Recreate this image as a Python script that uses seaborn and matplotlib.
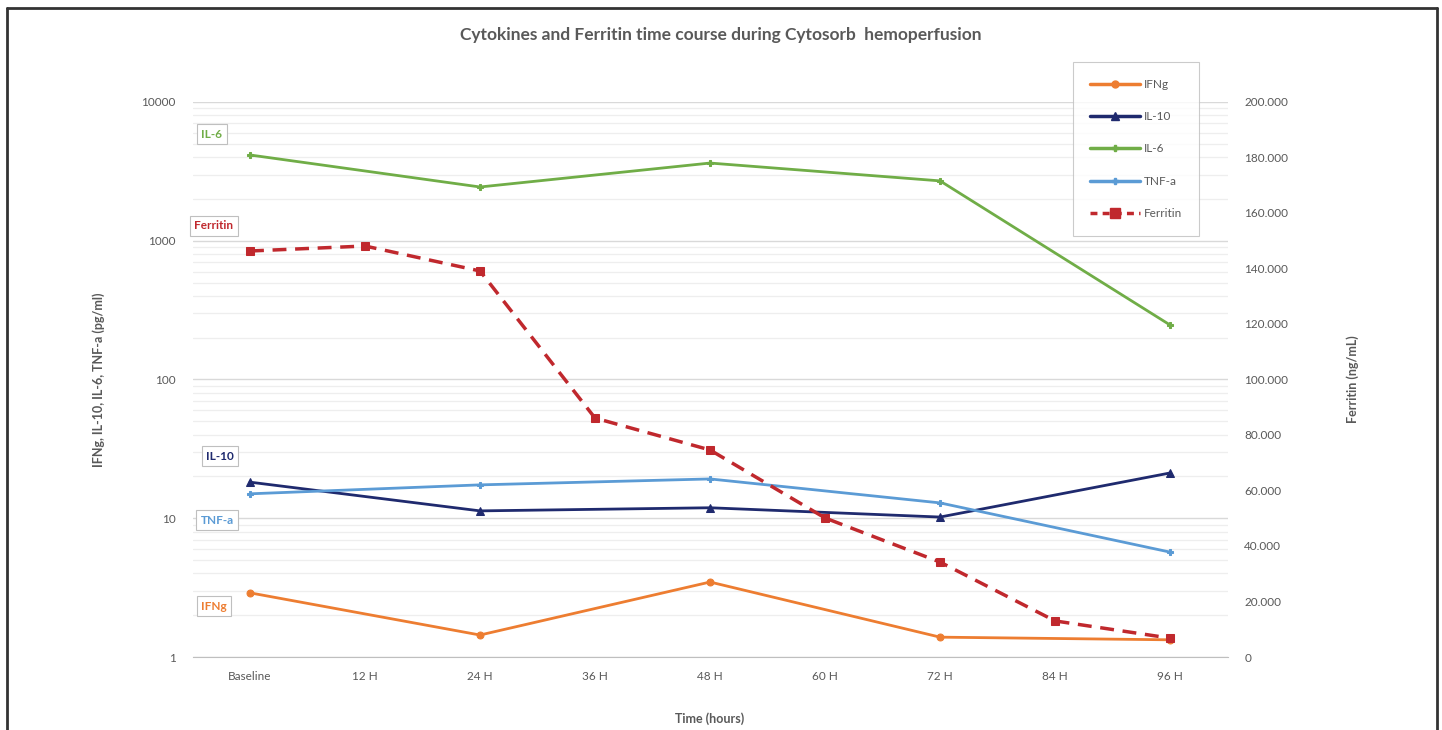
import numpy as np
import pandas as pd
import matplotlib
matplotlib.use("Agg")
import matplotlib.pyplot as plt
from matplotlib.lines import Line2D
from matplotlib.ticker import FixedLocator, FuncFormatter, NullFormatter
import seaborn as sns

# Datos
TIMES = ["Baseline", "12 H", "24 H", "36 H", "48 H", "60 H", "72 H", "84 H", "96 H"]
IFNG = [2.9, np.nan, 1.44, np.nan, 3.47, np.nan, 1.39, np.nan, 1.33]
IL10 = [18.2, np.nan, 11.3, np.nan, 11.9, np.nan, 10.2, np.nan, 21.2]
IL6 = [4150, np.nan, 2440, np.nan, 3630, np.nan, 2700, np.nan, 247]
TNFA = [15.0, np.nan, 17.4, np.nan, 19.2, np.nan, 12.9, np.nan, 5.7]
FERRITIN = [146300, 148100, 139100, 86100, 74600, 50100, 34200, 13000, 6800]

COLORS = {
    "IFNg": "#ED7D31",
    "IL-10": "#1F2A6E",
    "IL-6": "#70AD47",
    "TNF-a": "#5B9BD5",
    "Ferritin": "#C0282D",
}
MARKERS = {"IFNg": "o", "IL-10": "^", "IL-6": "P", "TNF-a": "P"}
MSIZE = {"IFNg": 5, "IL-10": 6, "IL-6": 4, "TNF-a": 4}

TEXT = "#595959"

sns.set_style("white")
plt.rcParams["font.family"] = ["Lato", "DejaVu Sans"]

df = pd.DataFrame({"pos": range(len(TIMES)), "time": TIMES,
                   "IFNg": IFNG, "IL-10": IL10, "IL-6": IL6, "TNF-a": TNFA,
                   "Ferritin": FERRITIN})

fig = plt.figure(figsize=(14.42, 7.30), dpi=100)
ax = fig.add_axes([0.1335, 0.1, 0.7178, 0.7603])
ax2 = ax.twinx()

handles = []
for name in ["IFNg", "IL-10", "IL-6", "TNF-a"]:
    sub = df[["pos", name]].dropna()
    sns.lineplot(data=sub, x="pos", y=name, ax=ax, color=COLORS[name],
                 linewidth=2, marker=MARKERS[name], markersize=MSIZE[name],
                 markeredgecolor=COLORS[name], legend=False)
    handles.append(Line2D([], [], color=COLORS[name], linewidth=2.5,
                          marker=MARKERS[name], markersize=MSIZE[name], label=name))

sns.lineplot(data=df, x="pos", y="Ferritin", ax=ax2, color=COLORS["Ferritin"],
             linewidth=2.5, linestyle=(0, (4, 2.5)), marker="s", markersize=6,
             markeredgecolor=COLORS["Ferritin"], legend=False)
handles.append(Line2D([], [], color=COLORS["Ferritin"], linewidth=2.5,
                      linestyle=(0, (2, 1.5)), marker="s", markersize=7, label="Ferritin"))

# Eje izquierdo (log)
ax.set_yscale("log")
ax.set_ylim(1, 10000)
ax.yaxis.set_major_locator(FixedLocator([1, 10, 100, 1000, 10000]))
ax.yaxis.set_major_formatter(FuncFormatter(lambda v, p: f"{int(v)}"))
minors = [m * 10 ** e for e in range(4) for m in range(2, 10)]
ax.yaxis.set_minor_locator(FixedLocator(minors))
ax.yaxis.set_minor_formatter(NullFormatter())
ax.grid(True, which="major", axis="y", color="#d9d9d9", linewidth=1)
ax.grid(True, which="minor", axis="y", color="#eeeeee", linewidth=0.9)
ax.set_axisbelow(True)

ax.set_xlim(-0.5, len(TIMES) - 0.5)
ax.set_xticks(range(len(TIMES)))
ax.set_xticklabels(TIMES)

# Eje derecho
ax2.set_ylim(0, 200000)
ax2.set_yticks(np.arange(0, 200001, 20000))
ax2.yaxis.set_major_formatter(FuncFormatter(lambda v, p: f"{int(v):,}".replace(",", ".")))

for a in (ax, ax2):
    for s in a.spines.values():
        s.set_visible(False)
    a.tick_params(which="both", length=0, labelsize=8.5, colors=TEXT, pad=12)
ax.spines["bottom"].set_visible(True)
ax.spines["bottom"].set_color("#bfbfbf")
ax.tick_params(axis="x", pad=10)

ax.set_xlabel("Time (hours)", fontsize=9, fontweight="bold", color=TEXT, labelpad=22)
ax.set_ylabel("IFNg, IL-10, IL-6, TNF-a (pg/ml)", fontsize=9, fontweight="bold",
              color=TEXT, labelpad=26)
ax2.set_ylabel("Ferritin (ng/mL)", fontsize=9, fontweight="bold", color=TEXT, labelpad=42)

fig.text(0.5, 0.952, "Cytokines and Ferritin time course during Cytosorb  hemoperfusion",
         ha="center", va="center", fontsize=12.5, fontweight="bold", color=TEXT)

# Etiquetas en recuadro a la izquierda
box_labels = [("IL-6", 134, 147), ("Ferritin", 226, 149), ("IL-10", 456, 155),
              ("TNF-a", 520, 152), ("IFNg", 606, 149)]
for name, ypix, xpix in box_labels:
    fig.text((xpix + 65) / 1442, 1 - ypix / 730, name, ha="center", va="center",
             fontsize=8.5, fontweight="bold", color=COLORS[name],
             bbox=dict(boxstyle="square,pad=0.35", facecolor="white", edgecolor="#bfbfbf",
                       linewidth=0.8))

leg = fig.legend(handles=handles, loc="upper left", bbox_to_anchor=(1077 / 1442, 1 - 66 / 730),
                 frameon=True, fontsize=8.5, labelspacing=1.8, handlelength=4.2,
                 handletextpad=0.4, borderpad=1.1, borderaxespad=0)
leg.get_frame().set_edgecolor("#bfbfbf")
leg.get_frame().set_linewidth(0.8)
leg.get_frame().set_boxstyle("square")
for t in leg.get_texts():
    t.set_color(TEXT)

# Marco exterior
for xs, ys in [((7, 7), (8, 730)), ((7, 1437), (8, 8)), ((1437, 1437), (8, 730))]:
    fig.add_artist(Line2D([x / 1442 for x in xs], [1 - y / 730 for y in ys],
                          color="#333333", linewidth=2))

fig.savefig("out.png", dpi=100)
